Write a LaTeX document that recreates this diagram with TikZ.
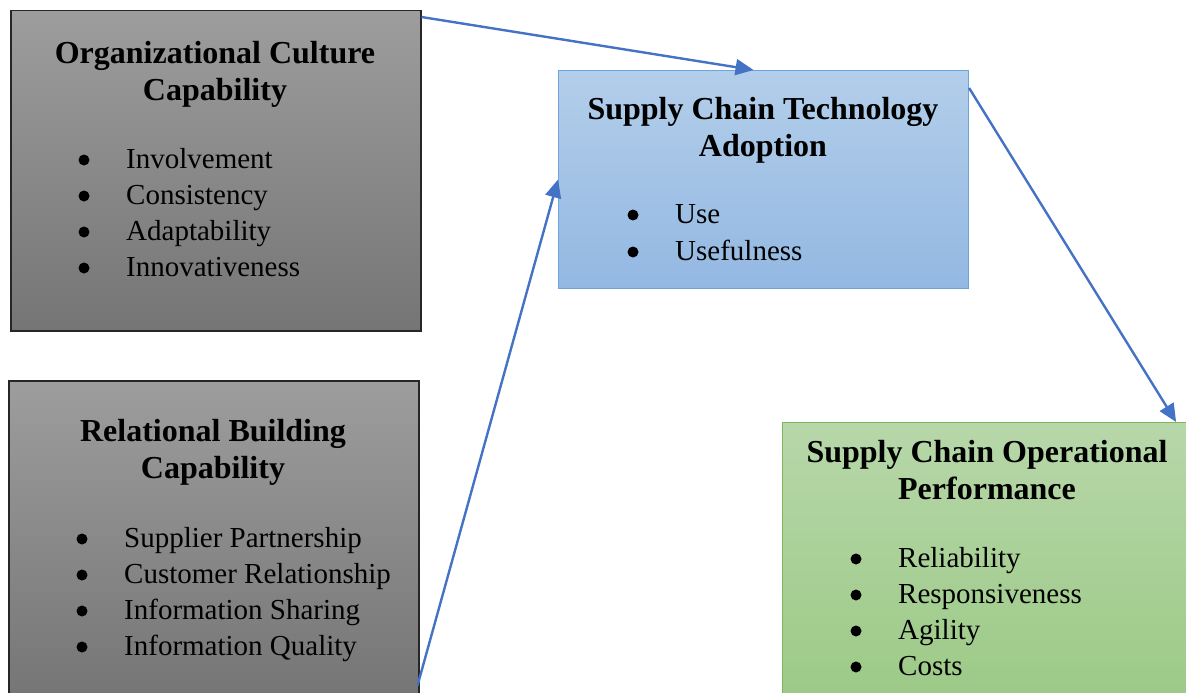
\documentclass[tikz,border=0pt]{standalone}
\usepackage{fontspec}
\setmainfont{Liberation Serif}
\usetikzlibrary{arrows.meta,positioning}

\definecolor{linkblue}{HTML}{4472C4}
\definecolor{greytop}{HTML}{9D9D9D}
\definecolor{greybot}{HTML}{757575}
\definecolor{bluetop}{HTML}{B3CEEA}
\definecolor{bluebot}{HTML}{93B8E2}
\definecolor{blueline}{HTML}{6FA3DB}
\definecolor{greentop}{HTML}{B7D7A9}
\definecolor{greenbot}{HTML}{9BC985}
\definecolor{greenline}{HTML}{7DB65F}

\tikzset{
  box/.style={rectangle,anchor=north west,inner sep=0pt,line width=1.1pt},
  greybox/.style={box,draw=black!85,line width=1.5pt,top color=greytop,bottom color=greybot},
  bluebox/.style={box,draw=blueline,top color=bluetop,bottom color=bluebot},
  greenbox/.style={box,draw=greenline,top color=greentop,bottom color=greenbot},
  heading/.style={font=\fontsize{32}{37}\selectfont\bfseries,align=center,
    anchor=base,inner sep=0pt},
  item/.style={font=\fontsize{29}{36}\selectfont,anchor=base west,inner sep=0pt},
  link/.style={draw=linkblue,line width=2.4pt,
    -{Triangle[length=18pt,width=16pt]}}
}
% bullet dot in front of a list entry
\newcommand{\itemdot}[1]{\fill ([xshift=-42pt,yshift=8pt]#1.base west) circle (5.5pt);}

\begin{document}
\begin{tikzpicture}[x=1pt,y=1pt]
  \useasboundingbox (0,0) rectangle (1186,-693);
  \clip (0,0) rectangle (1186,-693);

  % the four boxes
  \node[greybox,minimum width=410pt,minimum height=320pt] (ocap) at (10,-10) {};
  \node[greybox,minimum width=410pt,minimum height=320pt] (rbc) at (8,-380) {};
  \node[bluebox,minimum width=410pt,minimum height=218pt] (tech) at (558,-70) {};
  \node[greenbox,minimum width=410pt,minimum height=290pt] (perf) at (782,-422) {};

  % headings (base = last line)
  \node[heading] (ocaph) at (215,-100) {Organizational Culture\\Capability};
  \node[heading] (rbch) at (213,-478) {Relational Building\\Capability};
  \node[heading] (techh) at (763,-156) {Supply Chain Technology\\Adoption};
  \node[heading] (perfh) at (987,-499) {Supply Chain Operational\\Performance};

  % bullet lists
  \foreach \txt [count=\i] in {Involvement,Consistency,Adaptability,Innovativeness}{
    \node[item] (ocap\i) at (126,{-168-36*(\i-1)}) {\txt};
    \itemdot{ocap\i}
  }
  \foreach \txt [count=\i] in {Supplier Partnership,Customer Relationship,
      Information Sharing,Information Quality}{
    \node[item] (rbc\i) at (124,{-547-36*(\i-1)}) {\txt};
    \itemdot{rbc\i}
  }
  \foreach \txt [count=\i] in {Use,Usefulness}{
    \node[item] (tech\i) at (675,{-223-37*(\i-1)}) {\txt};
    \itemdot{tech\i}
  }
  \foreach \txt [count=\i] in {Reliability,Responsiveness,Agility,Costs}{
    \node[item] (perf\i) at (898,{-567-36*(\i-1)}) {\txt};
    \itemdot{perf\i}
  }

  % links
  \draw[link] ([yshift=-7pt]ocap.north east) -- ([xshift=-10pt]tech.north);
  \draw[link] ([xshift=-2pt,yshift=16pt]rbc.south east) -- (tech.west);
  \draw[link] ([yshift=-18pt]tech.north east) -- ([xshift=-17pt]perf.north east);
\end{tikzpicture}
\end{document}
